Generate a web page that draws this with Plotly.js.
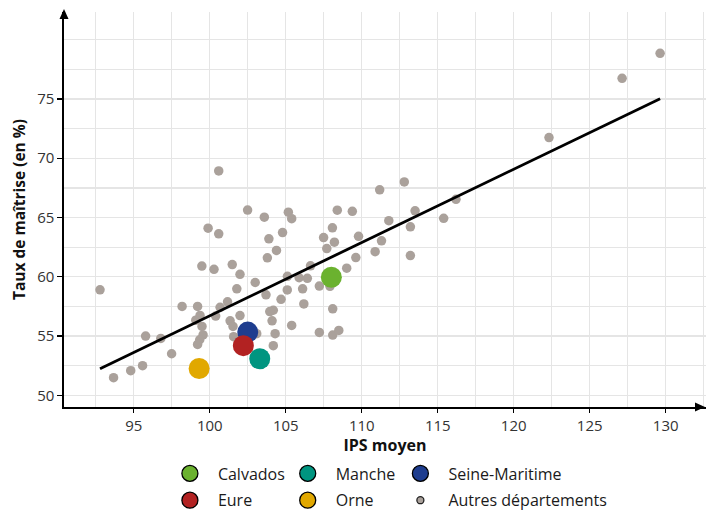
<!DOCTYPE html>
<html>
<head>
<meta charset="utf-8">
<script src="https://cdn.plot.ly/plotly-3.0.1.min.js"></script>
<style>html,body{margin:0;padding:0;background:#fff;}#chart{width:707px;height:512px;}</style>
</head>
<body>
<div id="chart"></div>
<script>
// IPS moyen (x) and taux de maîtrise (y) for other departments
const ipsAutres = [92.78, 93.67, 94.80, 95.58, 95.78, 96.78, 97.49, 98.18, 99.20, 99.36,
  99.08, 99.49, 99.56, 99.34, 99.20, 100.59, 99.89, 100.59, 99.48, 100.28,
  101.48, 101.99, 101.78, 100.68, 100.39, 101.17, 101.34, 101.53, 101.57, 101.99,
  102.99, 102.49, 103.59, 105.17, 105.39, 104.79, 103.89, 104.39, 103.79, 105.11,
  105.88, 106.42, 106.63, 105.10, 103.70, 104.69, 106.11, 107.21, 106.19, 107.49,
  108.07, 108.39, 109.38, 108.20, 107.70, 109.79, 109.61, 109.01, 104.18, 103.95,
  104.10, 104.30, 104.18, 105.39, 107.21, 108.09, 108.49, 108.09, 110.88, 111.30,
  111.78, 111.18, 112.80, 113.51, 113.20, 113.20, 115.39, 116.20, 122.32, 127.13,
  129.63, 107.91, 103.09];
const tauxAutres = [58.90, 51.49, 52.08, 52.50, 55.00, 54.80, 53.51, 57.50, 57.50, 56.74,
  56.34, 55.81, 55.10, 54.69, 54.30, 68.93, 64.10, 63.62, 60.90, 60.63,
  61.03, 60.21, 58.99, 57.43, 56.69, 57.89, 56.29, 55.81, 54.95, 56.73,
  59.52, 65.63, 65.03, 65.45, 64.90, 63.73, 63.20, 62.22, 61.60, 60.04,
  59.92, 59.87, 60.93, 58.89, 58.48, 58.10, 58.99, 59.22, 57.71, 63.31,
  64.13, 65.62, 65.52, 62.92, 62.38, 63.41, 61.62, 60.73, 57.18, 57.07,
  56.29, 55.20, 54.19, 55.90, 55.31, 55.09, 55.48, 57.30, 62.12, 63.03,
  64.73, 67.33, 68.00, 65.56, 64.21, 61.79, 64.93, 66.53, 71.74, 76.74,
  78.85, 59.20, 55.20];

// Normandy departments
const deptNames = ['Calvados', 'Manche', 'Seine-Maritime', 'Eure', 'Orne'];
const deptIps   = [108.00, 103.29, 102.50, 102.21, 99.30];
const deptTaux  = [59.96, 53.09, 55.34, 54.19, 52.27];

// Regression line end points
const fitIps  = [92.78, 129.63];
const fitTaux = [52.25, 75.02];

const autresLabel = 'Autres départements';
const xTicks = [95, 100, 105, 110, 115, 120, 125, 130];
const yTicks = [50, 55, 60, 65, 70, 75];

// styles
const deptColors = {'Calvados': '#6bb22f', 'Manche': '#009580', 'Seine-Maritime': '#1e3d8f', 'Eure': '#b22222', 'Orne': '#e1a800'};
const deptLegend = {'Calvados': 'legend', 'Eure': 'legend', 'Manche': 'legend2', 'Orne': 'legend2', 'Seine-Maritime': 'legend3'};
const grey = '#aaa19b';
const FONT = '"Open Sans", Lato, sans-serif';

const traces = [];
traces.push({x: ipsAutres, y: tauxAutres, type: 'scatter', mode: 'markers',
  marker: {color: grey, size: 9.5}, showlegend: false, hoverinfo: 'skip'});
traces.push({x: fitIps, y: fitTaux, type: 'scatter', mode: 'lines',
  line: {color: '#000', width: 2.8}, showlegend: false, hoverinfo: 'skip'});
deptNames.forEach((n, i) => {
  traces.push({x: [deptIps[i]], y: [deptTaux[i]], type: 'scatter', mode: 'markers',
    marker: {color: deptColors[n], size: 21}, showlegend: false, name: n});
});
// legend entries
const legOrder = ['Calvados', 'Eure', 'Manche', 'Orne', 'Seine-Maritime'];
legOrder.forEach(n => {
  traces.push({x: [null], y: [null], type: 'scatter', mode: 'markers', name: n,
    legend: deptLegend[n], legendgroup: n,
    marker: {color: deptColors[n], size: 20, line: {color: '#000', width: 1.3}}});
});
traces.push({x: [null], y: [null], type: 'scatter', mode: 'markers', name: autresLabel,
  legend: 'legend3', legendgroup: 'autres',
  marker: {color: grey, size: 7, line: {color: '#222', width: 1.3}}});

const legBase = {orientation: 'v', yanchor: 'top', xanchor: 'left', yref: 'container', y: 0.1084,
  font: {family: FONT, size: 16, color: '#1a1a1a'}, bgcolor: 'rgba(0,0,0,0)',
  tracegroupgap: 3, itemsizing: 'trace', itemwidth: 46};

const layout = {
  width: 707, height: 512,
  margin: {l: 64, r: 1, t: 12, b: 105},
  paper_bgcolor: '#fff', plot_bgcolor: '#fff',
  font: {family: FONT, size: 14, color: '#333'},
  xaxis: {range: [90.41, 132.65], tickvals: xTicks, ticktext: xTicks.map(String),
    showgrid: true, gridcolor: '#e5e5e5', gridwidth: 1.3,
    minor: {dtick: 2.5, tick0: 0, showgrid: true, gridcolor: '#e5e5e5', gridwidth: 1.3},
    showline: true, linecolor: '#000', linewidth: 1.6, ticks: 'outside', ticklen: 4,
    tickcolor: '#000', tickwidth: 1.2, zeroline: false, automargin: false,
    tickfont: {family: FONT, size: 15, color: '#333'},
    title: {text: 'IPS moyen', font: {family: FONT, size: 16, color: '#111', weight: 'bold'}, standoff: 10}},
  yaxis: {range: [49.02, 82.33], tickvals: yTicks, ticktext: yTicks.map(String),
    showgrid: true, gridcolor: '#e5e5e5', gridwidth: 1.3,
    minor: {dtick: 2.5, tick0: 0, showgrid: true, gridcolor: '#e5e5e5', gridwidth: 1.3},
    showline: true, linecolor: '#000', linewidth: 1.6, ticks: 'outside', ticklen: 5,
    tickcolor: '#000', tickwidth: 1.2, zeroline: false, automargin: false,
    tickfont: {family: FONT, size: 15, color: '#333'},
    title: {text: 'Taux de maîtrise (en %)', font: {family: FONT, size: 15.5, color: '#111', weight: 'bold'}, standoff: 8}},
  legend: Object.assign({}, legBase, {x: 0.1525}),
  legend2: Object.assign({}, legBase, {x: 0.336}),
  legend3: Object.assign({}, legBase, {x: 0.5115}),
  shapes: [
    {type: 'path', xref: 'paper', yref: 'paper', xsizemode: 'pixel', ysizemode: 'pixel',
      xanchor: 0, yanchor: 1, path: 'M0,3 L-4.5,-7 L4.5,-7 Z', fillcolor: '#000', line: {width: 0}},
    {type: 'path', xref: 'paper', yref: 'paper', xsizemode: 'pixel', ysizemode: 'pixel',
      xanchor: 1, yanchor: 0, path: 'M-1,0 L-11,4.5 L-11,-4.5 Z', fillcolor: '#000', line: {width: 0}}
  ]
};

Plotly.newPlot('chart', traces, layout, {displayModeBar: false, staticPlot: true});
</script>
</body>
</html>
